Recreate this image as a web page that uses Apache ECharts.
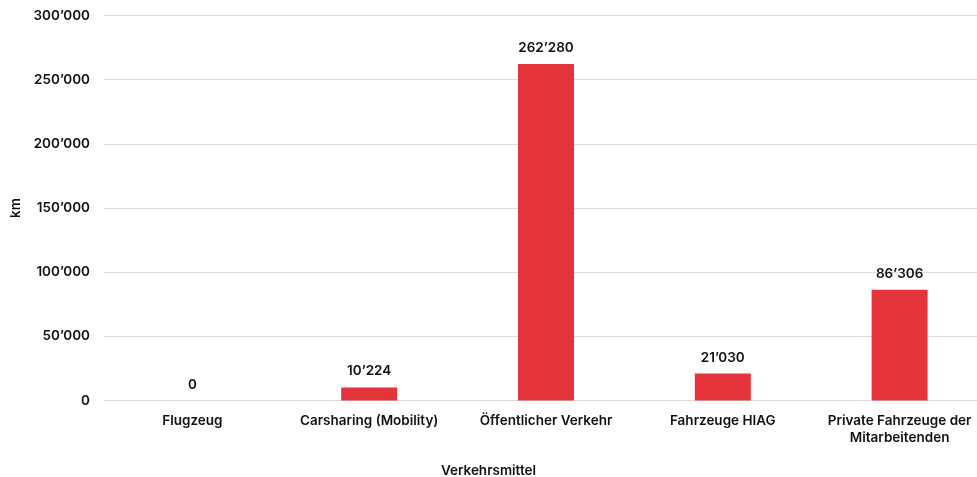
<!DOCTYPE html>
<html><head><meta charset="utf-8">
<script src="https://cdn.jsdelivr.net/npm/echarts@6/dist/echarts.min.js"></script>
<style>html,body{margin:0;padding:0;background:#fff}#c{width:977px;height:477px}</style>
</head><body><div id="c"></div>
<script>
const categories = ['Flugzeug', 'Carsharing (Mobility)', 'Öffentlicher Verkehr', 'Fahrzeuge HIAG', 'Private Fahrzeuge der\nMitarbeitenden'];
const values = [0, 10224, 262280, 21030, 86306];
const yTicks = [0, 50000, 100000, 150000, 200000, 250000, 300000];
const xName = 'Verkehrsmittel';
const yName = 'km';

function fmt(v) { return String(v).replace(/\B(?=(\d{3})+(?!\d))/g, '’'); }
const FONT = 'Inter';
const TS = { color: '#111', fontSize: 13.5, fontWeight: 600, fontFamily: FONT };
const chart = echarts.init(document.getElementById('c'));
chart.setOption({
  animation: false,
  textStyle: { fontFamily: FONT },
  grid: { left: 104, width: 884, top: 15.5, height: 385, containLabel: false, outerBoundsMode: 'none' },
  title: {
    text: xName, left: 'center', top: 459,
    textStyle: Object.assign({}, TS)
  },
  xAxis: {
    type: 'category', data: categories,
    axisLine: { show: true, lineStyle: { color: '#dcdcdc', width: 1 } },
    axisTick: { show: false },
    axisLabel: Object.assign({ margin: 12, lineHeight: 17, interval: 0 }, TS)
  },
  yAxis: {
    type: 'value', min: yTicks[0], max: yTicks[yTicks.length - 1], interval: yTicks[1] - yTicks[0],
    name: yName, nameLocation: 'middle', nameGap: 79, nameRotate: 90,
    nameTextStyle: Object.assign({}, TS),
    axisLine: { show: false }, axisTick: { show: false },
    splitLine: { lineStyle: { color: '#dcdcdc', width: 1 } },
    axisLabel: Object.assign({ margin: 14, formatter: fmt }, TS)
  },
  series: [{
    type: 'bar', data: values, barWidth: 56,
    itemStyle: { color: '#e5333b' },
    label: Object.assign({ show: true, position: 'top', distance: 9, formatter: p => fmt(p.value) }, TS)
  }]
});
</script></body></html>
